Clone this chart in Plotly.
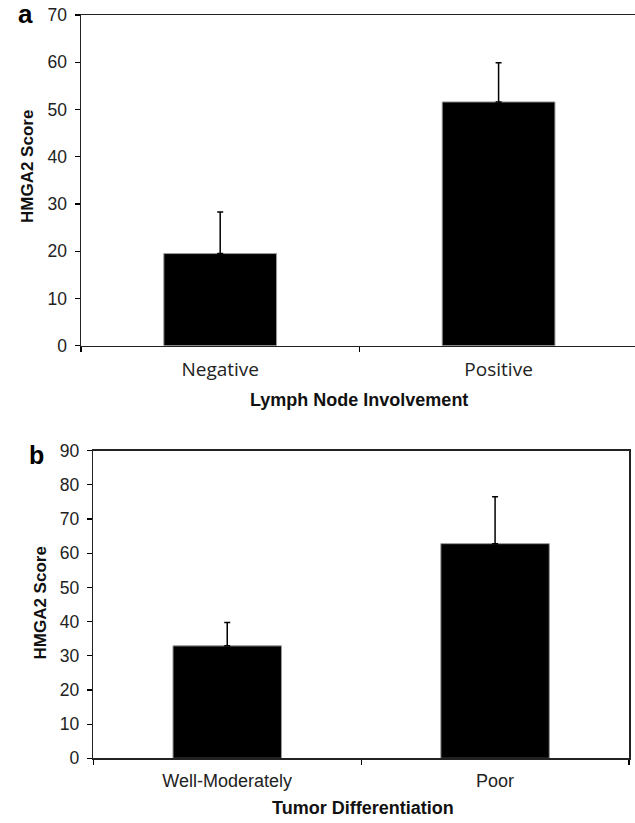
import plotly.graph_objects as go

# ---- data ----
lymph_categories = ["Negative", "Positive"]
lymph_scores = [19.5, 51.6]
lymph_err = [8.8, 8.3]

diff_categories = ["Well-Moderately", "Poor"]
diff_scores = [32.9, 62.8]
diff_err = [6.8, 13.7]

W, H = 635, 823
ARIAL = "Liberation Sans, Arial, sans-serif"


def px_x(v):
    return v / W


def px_y(v):
    return 1 - v / H


fig = go.Figure()

bar_style = dict(marker=dict(color="black", line=dict(color="#9a9a9a", width=1)),
                 width=0.405, showlegend=False, hoverinfo="skip")
err_style = dict(type="data", symmetric=False, color="black", thickness=1.5, width=3)

fig.add_trace(go.Bar(x=lymph_categories, y=lymph_scores,
                     error_y=dict(array=lymph_err, arrayminus=[0] * len(lymph_err), **err_style),
                     xaxis="x", yaxis="y", **bar_style))
fig.add_trace(go.Bar(x=diff_categories, y=diff_scores,
                     error_y=dict(array=diff_err, arrayminus=[0] * len(diff_err), **err_style),
                     xaxis="x2", yaxis="y2", **bar_style))

common_x = dict(type="category", tickson="boundaries", ticks="outside", ticklen=5,
                tickcolor="black", tickwidth=1.2, showline=True, mirror=True,
                linecolor="#222", linewidth=1.5, showgrid=False, zeroline=False,
                automargin=False, fixedrange=True)
common_y = dict(ticks="outside", ticklen=5, tickcolor="black", tickwidth=1.2,
                showline=True, linecolor="#222", linewidth=1.5, showgrid=False,
                zeroline=False, dtick=10, automargin=False, fixedrange=True,
                tickfont=dict(family=ARIAL, size=17.5, color="#222"),
                ticklabelstandoff=4)

fig.update_layout(
    width=W, height=H,
    margin=dict(l=0, r=0, t=0, b=0),
    paper_bgcolor="white", plot_bgcolor="white",
    bargap=0.2,
    hovermode=False,
    xaxis=dict(domain=[px_x(81), 1.0], range=[-0.5, 1.49],
               tickfont=dict(family="Open Sans, Noto Sans, sans-serif", size=19, color="#222"),
               ticklabelstandoff=6, anchor="y", **common_x),
    yaxis=dict(domain=[px_y(345.7), px_y(15)], range=[0, 70], mirror=False,
               anchor="x", **common_y),
    xaxis2=dict(domain=[px_x(93.3), px_x(629)], range=[-0.5, 1.5],
                tickfont=dict(family=ARIAL, size=18, color="#222"),
                ticklabelstandoff=6, anchor="y2", **common_x),
    yaxis2=dict(domain=[px_y(758.3), px_y(450.7)], range=[0, 90], mirror=True,
                anchor="x2", **common_y),
)

title_font = dict(family=ARIAL, size=18, color="#111")
annots = [
    dict(text="<b>a</b>", x=px_x(25.5), y=px_y(14), font=dict(family=ARIAL, size=26, color="black")),
    dict(text="<b>b</b>", x=px_x(36.5), y=px_y(455), font=dict(family=ARIAL, size=25, color="black")),
    dict(text="<b>HMGA2 Score</b>", x=px_x(27), y=px_y(167), textangle=-90,
         font=dict(family=ARIAL, size=17, color="#111")),
    dict(text="<b>HMGA2 Score</b>", x=px_x(39.5), y=px_y(603), textangle=-90,
         font=dict(family=ARIAL, size=17, color="#111")),
    dict(text="<b>Lymph Node Involvement</b>", x=px_x(359), y=px_y(400), font=title_font),
    dict(text="<b>Tumor Differentiation</b>", x=px_x(363), y=px_y(808), font=title_font),
]
for a in annots:
    a.update(xref="paper", yref="paper", showarrow=False, xanchor="center", yanchor="middle")
fig.update_layout(annotations=annots)

# remove the browser's default 8px page margin so the figure fills the window exactly
fig.write_html("out.html",
               config={"displayModeBar": False, "staticPlot": True},
               post_script="document.body.style.margin='0';document.body.style.overflow='hidden';")
